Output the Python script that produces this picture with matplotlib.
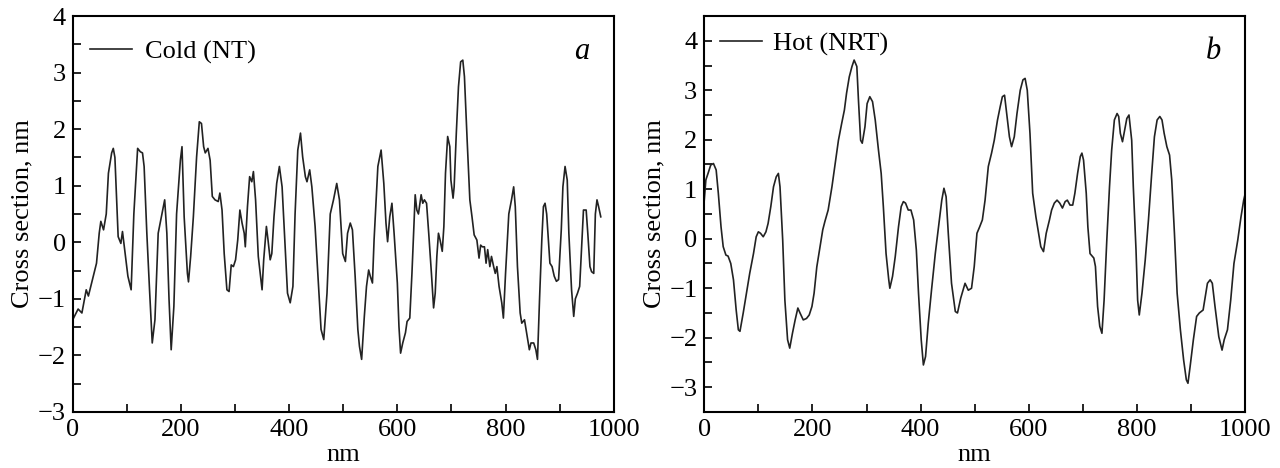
from matplotlib import pyplot as plt
from matplotlib.ticker import MultipleLocator
import numpy as np

plt.rcParams['font.family'] = ['Liberation Serif', 'DejaVu Serif']
plt.rcParams['mathtext.fontset'] = 'stix'

# (a) Cold (NT)
x_cold = [0, 10, 17, 25, 29, 38, 44, 49, 52, 57, 62, 66, 72, 75, 78, 84, 89, 92, 97, 102,
          108, 113, 120, 125, 129, 132, 137, 142, 147, 152, 158, 165, 170, 174, 178, 182, 187,
          192, 199, 202, 206, 212, 214, 218, 223, 229, 234, 238, 242, 245, 250, 254, 258, 263,
          269, 272, 276, 280, 285, 289, 293, 297, 301, 305, 309, 313, 317, 319, 323, 327, 331,
          334, 338, 343, 350, 353, 358, 361, 365, 368, 372, 377, 382, 387, 393, 397, 402, 407,
          411, 416, 421, 425, 430, 433, 438, 442, 448, 454, 459, 464, 470, 476, 482, 488, 493,
          499, 504, 508, 513, 517, 522, 527, 530, 534, 539, 543, 547, 550, 554, 557, 564, 570,
          575, 579, 582, 586, 590, 594, 600, 603, 606, 610, 615, 618, 623, 627, 632, 633, 636,
          639, 644, 647, 650, 654, 658, 663, 667, 670, 673, 676, 679, 683, 686, 689, 693, 697,
          699, 703, 705, 709, 713, 717, 721, 724, 729, 734, 738, 742, 747, 751, 754, 757, 761,
          764, 767, 771, 774, 778, 781, 784, 788, 793, 796, 800, 806, 811, 815, 818, 822, 827,
          830, 835, 840, 844, 847, 852, 856, 859, 863, 867, 870, 873, 876, 882, 886, 890, 894,
          898, 903, 906, 910, 914, 917, 922, 926, 929, 933, 937, 940, 944, 949, 952, 956, 959,
          963, 966, 969, 972, 976]
y_cold = [-1.37, -1.18, -1.25, -0.84, -0.95, -0.6, -0.37, 0.16, 0.37, 0.22, 0.5, 1.22, 1.58,
          1.66, 1.5, 0.1, -0.02, 0.19, -0.2, -0.6, -0.84, 0.5, 1.66, 1.6, 1.58, 1.34, 0.16,
          -0.84, -1.78, -1.37, 0.16, 0.5, 0.75, 0.16, -1.0, -1.9, -1.13, 0.5, 1.45, 1.69, 0.45,
          -0.55, -0.7, -0.25, 0.45, 1.51, 2.13, 2.1, 1.69, 1.58, 1.66, 1.45, 0.81, 0.75, 0.72,
          0.87, 0.57, -0.2, -0.84, -0.87, -0.4, -0.43, -0.31, 0.04, 0.57, 0.34, 0.16, -0.08,
          0.63, 1.16, 1.07, 1.25, 0.75, -0.25, -0.84, -0.31, 0.28, 0.04, -0.31, -0.2, 0.45, 1.04,
          1.34, 0.98, -0.13, -0.9, -1.07, -0.78, 0.5, 1.63, 1.93, 1.51, 1.16, 1.07, 1.28, 0.98,
          0.28, -0.72, -1.54, -1.72, -0.9, 0.5, 0.75, 1.04, 0.75, -0.2, -0.34, 0.16, 0.34, 0.22,
          -0.6, -1.54, -1.84, -2.07, -1.31, -0.78, -0.49, -0.6, -0.72, 0.04, 1.34, 1.63, 1.04,
          0.34, 0.01, 0.45, 0.69, 0.16, -0.72, -1.49, -1.96, -1.78, -1.6, -1.4, -1.34, -0.55,
          0.63, 0.84, 0.57, 0.5, 0.84, 0.69, 0.75, 0.69, 0.16, -0.55, -1.16, -0.9, -0.25, 0.16,
          0.04, -0.16, 0.28, 1.22, 1.87, 1.69, 1.1, 0.78, 0.98, 1.93, 2.75, 3.19, 3.22, 2.93,
          1.81, 0.75, 0.45, 0.13, 0.04, -0.28, -0.05, -0.08, -0.08, -0.37, -0.13, -0.43, -0.25,
          -0.43, -0.55, -0.43, -0.78, -1.07, -1.34, -0.55, 0.5, 0.75, 0.98, 0.63, -0.43, -1.25,
          -1.43, -1.37, -1.66, -1.9, -1.78, -1.78, -1.9, -2.07, -0.96, 0.04, 0.63, 0.69, 0.5,
          -0.37, -0.43, -0.6, -0.69, -0.66, 0.22, 0.98, 1.34, 1.1, 0.16, -0.84, -1.31, -1.0,
          -0.9, -0.78, -0.2, 0.57, 0.57, 0.16, -0.43, -0.52, -0.55, 0.5, 0.75, 0.63, 0.45]

# (b) Hot (NRT)
x_hot = [0, 3, 7, 12, 17, 22, 26, 31, 35, 40, 44, 49, 54, 59, 63, 66, 72, 78, 84, 91, 96, 100,
         104, 109, 114, 118, 123, 128, 133, 137, 140, 145, 149, 154, 158, 163, 168, 173, 177,
         183, 189, 194, 199, 203, 208, 214, 219, 223, 229, 236, 242, 248, 254, 259, 263, 268,
         273, 277, 282, 285, 289, 292, 297, 301, 306, 311, 316, 322, 327, 331, 336, 341, 343,
         348, 353, 359, 364, 368, 372, 377, 382, 387, 392, 396, 401, 405, 409, 414, 420, 427,
         433, 439, 443, 447, 451, 457, 464, 468, 474, 482, 488, 494, 499, 504, 509, 514, 519,
         525, 531, 536, 542, 547, 551, 555, 559, 564, 568, 573, 578, 584, 589, 593, 597, 602,
         607, 613, 618, 622, 627, 632, 638, 642, 647, 652, 657, 662, 667, 671, 676, 681, 685,
         690, 695, 698, 701, 706, 709, 713, 720, 723, 727, 731, 735, 739, 744, 749, 753, 758,
         763, 766, 769, 773, 777, 781, 785, 790, 793, 798, 801, 804, 809, 815, 821, 827, 832,
         837, 842, 846, 850, 855, 860, 864, 869, 874, 880, 886, 891, 894, 898, 904, 910, 915,
         922, 926, 930, 935, 939, 944, 951, 957, 961, 967, 973, 979, 986, 992, 997, 1000]
y_hot = [0.78, 1.19, 1.32, 1.49, 1.52, 1.39, 0.92, 0.24, -0.16, -0.33, -0.35, -0.5, -0.83,
         -1.44, -1.84, -1.87, -1.5, -1.1, -0.7, -0.3, 0.04, 0.14, 0.11, 0.04, 0.14, 0.31, 0.65,
         1.05, 1.25, 1.32, 1.05, -0.03, -1.24, -2.04, -2.21, -1.91, -1.64, -1.4, -1.5, -1.64,
         -1.61, -1.54, -1.37, -1.1, -0.57, -0.16, 0.18, 0.35, 0.58, 1.05, 1.52, 1.99, 2.33,
         2.6, 2.94, 3.27, 3.48, 3.61, 3.48, 2.8, 1.99, 1.93, 2.26, 2.73, 2.87, 2.77, 2.4, 1.79,
         1.32, 0.65, -0.3, -0.83, -1.0, -0.76, -0.36, 0.24, 0.65, 0.75, 0.72, 0.58, 0.58, 0.38,
         -0.23, -1.1, -2.04, -2.55, -2.38, -1.71, -1.04, -0.3, 0.24, 0.78, 1.02, 0.85, 0.11,
         -0.9, -1.47, -1.5, -1.2, -0.9, -1.04, -1.0, -0.56, 0.11, 0.24, 0.38, 0.78, 1.46, 1.73,
         1.99, 2.4, 2.67, 2.87, 2.9, 2.53, 2.06, 1.86, 2.06, 2.53, 3.0, 3.21, 3.24, 3.0, 2.13,
         0.92, 0.44, 0.11, -0.16, -0.26, 0.11, 0.38, 0.58, 0.72, 0.78, 0.72, 0.62, 0.75, 0.78,
         0.68, 0.68, 0.92, 1.32, 1.66, 1.73, 1.59, 0.92, 0.24, -0.3, -0.39, -0.56, -1.37, -1.77,
         -1.91, -1.24, -0.03, 1.05, 1.79, 2.4, 2.53, 2.47, 2.13, 1.96, 2.2, 2.43, 2.5, 1.99,
         1.05, -0.23, -1.24, -1.54, -1.1, -0.43, 0.38, 1.32, 2.06, 2.4, 2.47, 2.4, 2.13, 1.86,
         1.69, 1.19, 0.11, -1.1, -1.84, -2.45, -2.85, -2.92, -2.58, -2.04, -1.57, -1.5, -1.44,
         -1.17, -0.9, -0.83, -0.9, -1.37, -1.98, -2.25, -2.04, -1.84, -1.24, -0.5, -0.03, 0.44,
         0.78, 0.92]

fig = plt.figure(figsize=(12.8, 4.68), dpi=100)
ax1 = fig.add_axes([0.0568, 0.1197, 0.4227, 0.8461])
ax2 = fig.add_axes([0.5502, 0.1197, 0.4227, 0.8461])

FS = 19

def style(ax, ylim):
    ax.set_xlim(0, 1000)
    ax.set_ylim(*ylim)
    ax.xaxis.set_major_locator(MultipleLocator(200))
    ax.xaxis.set_minor_locator(MultipleLocator(100))
    ax.yaxis.set_major_locator(MultipleLocator(1))
    ax.yaxis.set_minor_locator(MultipleLocator(0.5))
    ax.tick_params(which='both', direction='in', top=False, right=False,
                   labelsize=FS, width=1.2, pad=5)
    ax.tick_params(which='major', length=6)
    ax.tick_params(which='minor', length=6)
    for s in ax.spines.values():
        s.set_linewidth(1.5)
    ax.set_xlabel('nm', fontsize=FS, labelpad=2)
    ax.set_ylabel('Cross section, nm', fontsize=FS, labelpad=3)

ax1.plot(x_cold, y_cold, color='#222222', lw=1.2, label='Cold (NT)')
style(ax1, (-3, 4))
ax1.legend(loc='center left', frameon=False, fontsize=FS, handlelength=1.6,
           handletextpad=0.5, borderpad=0, borderaxespad=0,
           bbox_to_anchor=(0.032, 0.909))
ax1.text(0.955, 0.91, 'a', transform=ax1.transAxes, fontsize=22, style='italic',
         ha='right', va='center')

ax2.plot(x_hot, y_hot, color='#222222', lw=1.2, label='Hot (NRT)')
style(ax2, (-3.5, 4.5))
ax2.legend(loc='center left', frameon=False, fontsize=FS, handlelength=1.6,
           handletextpad=0.4, borderpad=0, borderaxespad=0,
           bbox_to_anchor=(0.029, 0.929))
ax2.text(0.955, 0.91, 'b', transform=ax2.transAxes, fontsize=22, style='italic',
         ha='right', va='center')

fig.savefig('out.png', dpi=100)
